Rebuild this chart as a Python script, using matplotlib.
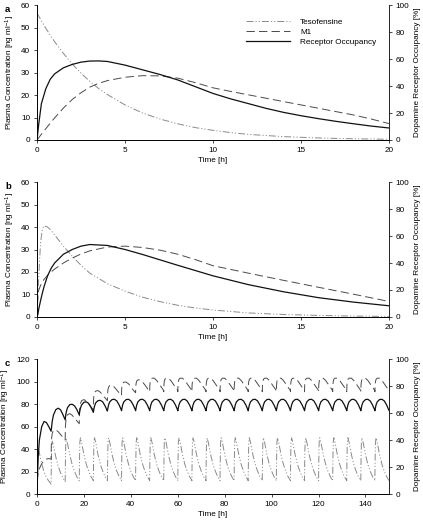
import matplotlib
matplotlib.use('Agg')
import matplotlib.pyplot as plt
import numpy as np

plt.rcParams['font.family'] = ['Liberation Sans', 'DejaVu Sans']
plt.rcParams['mathtext.default'] = 'regular'
plt.rcParams['font.size'] = 5.9
plt.rcParams['lines.scale_dashes'] = False

# ---- panel a : single dose (h, ng/ml and %) ----
t_a = [0, 0.1, 0.25, 0.5, 0.75, 1, 1.5, 2, 2.5, 3, 3.5, 4, 5, 6, 7, 8, 9, 10,
       11, 12, 13, 14, 15, 16, 17, 18, 19, 20]
tes_a = [56.5, 55, 53, 49.7, 46.6, 43.7, 38.5, 33.8, 29.7, 26.1, 22.9, 20.2, 15.6,
         12.0, 9.3, 7.2, 5.5, 4.3, 3.3, 2.5, 2.0, 1.5, 1.2, 0.9, 0.7, 0.55, 0.42, 0.33]
m1_a = [0, 1, 2.6, 5, 7.5, 9.8, 14.2, 18, 21, 23.5, 25.2, 26.4, 27.9, 28.6, 28.5,
        27.5, 25.5, 23.2, 21.6, 20.1, 18.6, 17.1, 15.6, 14.1, 12.6, 11.1, 9.3, 7.3]
ro_a = [0, 12, 27, 38, 45, 49, 53.5, 56, 57.7, 58.5, 58.6, 58.2, 55.5, 52, 48.5,
        44.5, 39.5, 34.5, 30.5, 27, 23.5, 20.5, 18, 15.8, 13.8, 12, 10.3, 8.9]

# ---- panel b ----
t_b = [0, 0.05, 0.1, 0.2, 0.3, 0.4, 0.6, 0.8, 1, 1.5, 2, 2.5, 3, 4, 5, 6, 7, 8,
       9, 10, 12, 14, 16, 18, 20]
tes_b = [0, 9, 18, 33, 39, 40.5, 40, 38.5, 36.5, 31.5, 27, 23, 19.5, 14.8, 11.5,
         8.8, 6.8, 5.2, 4, 3.1, 1.8, 1.1, 0.7, 0.4, 0.25]
m1_b = [0, 10, 12, 14, 15.5, 16.7, 18.5, 20, 21.3, 24, 26.2, 28, 29.4, 31.1, 31.5,
        30.9, 29.7, 27.9, 25.5, 22.8, 19.5, 16.3, 13.2, 10.1, 6.9]
ro_b = [0, 2, 6, 12, 17.5, 22.5, 30.5, 36, 40, 46.5, 50, 52.5, 53.7, 53, 50, 46.3,
        42.3, 38.3, 34.4, 30.5, 24, 18.7, 14.3, 11, 8.3]

# ---- panel c : repeated dosing every 6 h, values read per dosing interval ----
dose_every = 6
n_doses = 25
offsets = [0, 0.1, 0.25, 0.5, 1, 2, 3, 4, 5, 6]
tes_rows = [
    [0, 18, 36, 40.5, 36.5, 27, 19.5, 14.8, 11.5, 8.8],
    [8.8, 26, 43, 47, 43, 33, 25, 19, 14.5, 11],
    [11, 28, 45, 49, 45, 34.5, 26, 20, 15.2, 11.7],
] + [[11.8, 29, 46, 50, 46, 35, 26.5, 20.3, 15.5, 12]] * 22
m1_rows = [
    [0, 12, 15, 19, 22.5, 27, 29.8, 31.1, 31.5, 31],
    [31, 45, 50, 54, 56.5, 57, 55.5, 53, 50.5, 48],
    [48, 60, 64, 68, 70.5, 71.5, 70, 67.5, 65, 62.5],
    [62.5, 73, 77, 80.5, 83, 84, 82.5, 80, 77.5, 75],
    [75, 84, 87.5, 90, 91.5, 92, 90.5, 88, 85.5, 83],
    [83, 90, 93, 95, 96.5, 96.8, 95, 92.5, 90, 87.5],
    [87.5, 94, 96.5, 98.5, 99.5, 99.5, 98, 95.5, 92.5, 90],
    [90, 96, 98.5, 100.5, 101.5, 101.5, 99.5, 97, 94, 91],
] + [[91, 97, 100, 102, 103, 103, 101, 98, 95, 92]] * 17
ro_rows = [
    [0, 6, 15, 27, 40, 50, 53.7, 53, 50, 46.5],
    [46.5, 48, 50.5, 54, 58.5, 62.5, 63.6, 62.5, 59, 55],
    [55, 56.5, 58.5, 61, 64, 66.3, 66.5, 65.3, 62.5, 58.7],
    [58.7, 60, 61.5, 63.5, 66, 68, 68.3, 67.2, 64.3, 60.5],
    [60.5, 61.5, 63, 65, 67.5, 69.2, 69.4, 68.3, 65.3, 61.5],
] + [[61.7, 62.7, 64, 66, 68.3, 70, 70.2, 69, 66, 62]] * 20

t_c = np.concatenate([dose_every * i + np.array(offsets) for i in range(n_doses)])
tes_c = np.concatenate(tes_rows)
m1_c = np.concatenate(m1_rows)
ro_c = np.concatenate(ro_rows)

TES_STYLE = dict(color='#8a8a8a', lw=0.7, dashes=[5, 1.5, 0.8, 1.5, 0.8, 1.5])
M1_STYLE = dict(color='#4a4a4a', lw=0.7, dashes=[6, 3])
RO_STYLE = dict(color='#111111', lw=0.9)


def setup(ax, ax2, xmax, xticks, ymax, yticks):
    for a in (ax, ax2):
        a.spines['top'].set_visible(False)
        a.spines['left'].set_linewidth(0.6)
        a.spines['bottom'].set_linewidth(0.6)
        a.spines['right'].set_linewidth(0.6)
        a.tick_params(direction='out', length=2.5, width=0.5, pad=2.5, labelsize=5.9)
    ax.spines['right'].set_visible(False)
    ax.set_xlim(0, xmax)
    ax.set_xticks(xticks)
    ax.set_ylim(0, ymax)
    ax.set_yticks(yticks)
    ax2.set_ylim(0, 100)
    ax2.set_yticks([0, 20, 40, 60, 80, 100])
    ax.set_xlabel('Time [h]', labelpad=2)
    ax.set_ylabel('Plasma Concentration [ng ml$^{-1}$]', labelpad=3)
    ax2.set_ylabel('Dopamine Receptor Occupancy [%]', labelpad=3)


fig = plt.figure(figsize=(4.23, 5.21), dpi=100)
left, width = 0.0875, 0.832

panels = [
    ('a', 0.7313, t_a, tes_a, m1_a, ro_a, 20, [0, 5, 10, 15, 20], 60, [0, 10, 20, 30, 40, 50, 60]),
    ('b', 0.3916, t_b, tes_b, m1_b, ro_b, 20, [0, 5, 10, 15, 20], 60, [0, 10, 20, 30, 40, 50, 60]),
    ('c', 0.0518, t_c, tes_c, m1_c, ro_c, 150, list(range(0, 141, 20)), 120, list(range(0, 121, 20))),
]

for letter, bottom, t, tes, m1, ro, xmax, xt, ymax, yt in panels:
    ax = fig.add_axes([left, bottom, width, 0.259])
    ax2 = ax.twinx()
    l1, = ax.plot(t, tes, label='Tesofensine', **TES_STYLE)
    l2, = ax.plot(t, m1, label='M1', **M1_STYLE)
    l3, = ax2.plot(t, ro, label='Receptor Occupancy', **RO_STYLE)
    setup(ax, ax2, xmax, xt, ymax, yt)
    fig.text(0.012, bottom + 0.259, letter, fontsize=6.8, fontweight='bold',
             va='top', ha='left')
    if letter == 'a':
        ax.legend(handles=[l1, l2, l3], loc='upper left', bbox_to_anchor=(0.585, 0.93),
                  frameon=False, handlelength=5.3, handletextpad=1.3,
                  labelspacing=0.3, fontsize=5.9, borderaxespad=0)

fig.savefig('out.png', dpi=100)
